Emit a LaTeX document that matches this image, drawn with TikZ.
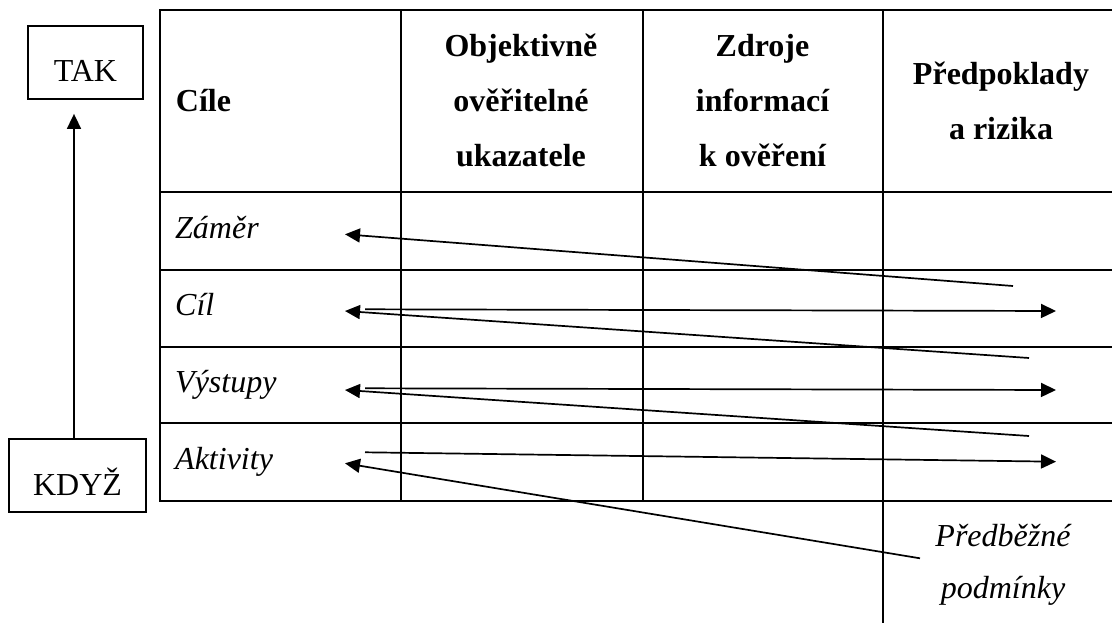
\documentclass[tikz,border=0pt]{standalone}
\usepackage{fontspec}
\setmainfont{Liberation Serif}
\usetikzlibrary{arrows.meta}
\begin{document}
\begin{tikzpicture}[x=1pt,y=-1pt,
  grid/.style={line width=2.6pt},
  conn/.style={line width=1.7pt,-{Triangle[length=15pt,width=14pt]}},
  big/.style={font=\fontsize{32}{38}\selectfont},
  hdr/.style={big,font=\fontsize{32}{38}\selectfont\bfseries,anchor=base,inner sep=0},
  rowlbl/.style={font=\fontsize{32}{38}\selectfont\itshape,anchor=base west,inner sep=0},
  note/.style={font=\fontsize{32}{38}\selectfont\itshape,anchor=base,inner sep=0},
  tagbox/.style={draw,line width=1.8pt,inner sep=0,anchor=base,big}
]
\useasboundingbox (0,0) rectangle (1112,623);

% table grid
\draw[grid] (1112,10) -- (160,10) -- (160,501) -- (1112,501);
\foreach \yy in {192,270,347,423} \draw[grid] (160,\yy) -- (1112,\yy);
\draw[grid] (401,10) -- (401,501);
\draw[grid] (643,10) -- (643,501);
\draw[grid] (883,10) -- (883,623);

% header row
\node[hdr,anchor=base west] (hcile) at (175.7,111.7) {Cíle};
\node[hdr] (hoa) at (521,56.7) {Objektivně};
\node[hdr] (hob) at (521,111.7) {ověřitelné};
\node[hdr] (hoc) at (521,166.7) {ukazatele};
\node[hdr] (hza) at (762.5,56.7) {Zdroje};
\node[hdr] (hzb) at (762.5,111.7) {informací};
\node[hdr] (hzc) at (762.5,166.7) {k ověření};
\node[hdr] (hpa) at (1001,85) {Předpoklady};
\node[hdr] (hpb) at (1001,139.3) {a rizika};

% row labels
\node[rowlbl] (rzamer) at (175,238) {Záměr};
\node[rowlbl] (rcil) at (175,315) {Cíl};
\node[rowlbl] (rvyst) at (175,392.7) {Výstupy};
\node[rowlbl] (rakt) at (175,469.3) {Aktivity};

% preconditions below the table
\node[note] (pra) at (1003,546.7) {Předběžné};
\node[note] (prb) at (1003,598) {podmínky};

% side boxes
\node[tagbox,minimum width=115pt,text height=55.7pt,text depth=17.3pt] (tak) at (85.5,81.7) {TAK};
\node[tagbox,minimum width=137pt,text height=56pt,text depth=17pt] (kdyz) at (77.5,495) {KDYŽ};
\coordinate (vx) at (74,0);
\draw[conn] (kdyz.north -| vx) -- ([yshift=-14pt]tak.south -| vx);

% arrow end points
\coordinate (zamL) at (345,234.3);
\coordinate (cilR) at (1013,286);
\coordinate (cilL) at (345,311);
\coordinate (cilS) at (365,309.3);
\coordinate (cilE) at (1056,311);
\coordinate (vysR) at (1029,358);
\coordinate (vysL) at (345,390);
\coordinate (vysS) at (365,388.3);
\coordinate (vysE) at (1056,390);
\coordinate (aktR) at (1029,436);
\coordinate (aktL) at (345,463.3);
\coordinate (aktS) at (365,452.3);
\coordinate (aktE) at (1056,461.7);
\coordinate (preR) at (920,558.3);

% logic arrows
\draw[conn] (cilR) -- (zamL);
\draw[conn] (cilS) -- (cilE);
\draw[conn] (vysR) -- (cilL);
\draw[conn] (vysS) -- (vysE);
\draw[conn] (aktR) -- (vysL);
\draw[conn] (aktS) -- (aktE);
\draw[conn] (preR) -- (aktL);
\end{tikzpicture}
\end{document}
